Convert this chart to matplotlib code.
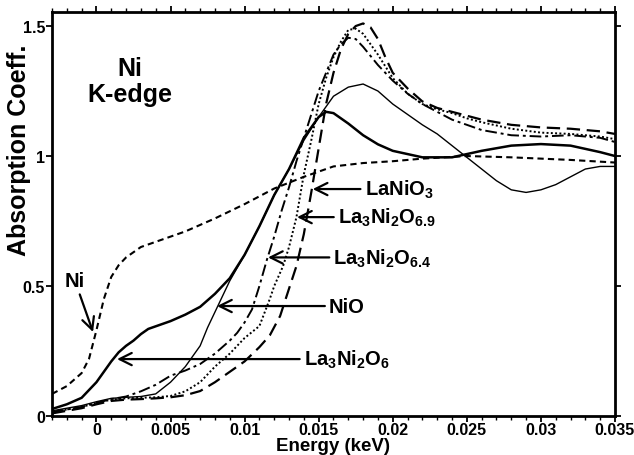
import matplotlib
matplotlib.use('Agg')
import matplotlib.pyplot as plt
from matplotlib import ticker

plt.rcParams['font.family'] = ['Liberation Sans', 'DejaVu Sans']
plt.rcParams['font.weight'] = 'bold'
plt.rcParams['mathtext.fontset'] = 'custom'
plt.rcParams['mathtext.rm'] = 'Liberation Sans:bold'
plt.rcParams['mathtext.bf'] = 'Liberation Sans:bold'
plt.rcParams['mathtext.default'] = 'rm'

# Ni metal foil
e_ni = [-0.003, -0.002, -0.001, -0.0005, 0, 0.0005, 0.001, 0.0015, 0.002, 0.003, 0.004,
        0.005, 0.006, 0.008, 0.010, 0.012, 0.014, 0.016, 0.018, 0.020, 0.022, 0.025,
        0.028, 0.030, 0.032, 0.035]
a_ni = [0.085, 0.115, 0.165, 0.22, 0.33, 0.45, 0.535, 0.58, 0.61, 0.65, 0.67,
        0.69, 0.71, 0.76, 0.815, 0.875, 0.92, 0.96, 0.973, 0.98, 0.99, 1.0,
        0.995, 0.99, 0.985, 0.975]

# La3Ni2O6 (thick solid)
e_l6 = [-0.003, -0.002, -0.001, 0, 0.0005, 0.001, 0.0015, 0.002, 0.0025, 0.003, 0.0035,
        0.004, 0.005, 0.006, 0.007, 0.008, 0.009, 0.010, 0.011, 0.012, 0.013, 0.014,
        0.015, 0.0155, 0.016, 0.017, 0.018, 0.019, 0.020, 0.022, 0.024, 0.026, 0.028,
        0.030, 0.032, 0.034, 0.035]
a_l6 = [0.027, 0.045, 0.07, 0.13, 0.17, 0.21, 0.245, 0.27, 0.29, 0.315, 0.335,
        0.345, 0.365, 0.39, 0.42, 0.47, 0.53, 0.62, 0.73, 0.85, 0.95, 1.07,
        1.15, 1.17, 1.165, 1.125, 1.08, 1.045, 1.02, 0.995, 0.995, 1.02, 1.04,
        1.046, 1.04, 1.015, 1.0]

# NiO (thin solid)
e_nio = [-0.003, -0.002, -0.001, 0, 0.001, 0.002, 0.003, 0.004, 0.005, 0.006, 0.0065,
         0.007, 0.0075, 0.008, 0.0085, 0.009, 0.010, 0.011, 0.012, 0.013, 0.014, 0.015,
         0.016, 0.017, 0.018, 0.019, 0.020, 0.021, 0.022, 0.023, 0.024, 0.025, 0.026,
         0.027, 0.028, 0.029, 0.030, 0.031, 0.032, 0.033, 0.034, 0.035]
a_nio = [0.02, 0.03, 0.04, 0.055, 0.068, 0.072, 0.075, 0.085, 0.13, 0.19, 0.23,
         0.27, 0.34, 0.40, 0.46, 0.52, 0.62, 0.73, 0.85, 0.95, 1.06, 1.15,
         1.23, 1.265, 1.277, 1.25, 1.20, 1.16, 1.12, 1.085, 1.04, 0.995, 0.95,
         0.905, 0.87, 0.86, 0.87, 0.89, 0.92, 0.95, 0.96, 0.96]

# La3Ni2O6.4 (dash-dot)
e_l64 = [-0.003, -0.002, -0.001, 0, 0.001, 0.002, 0.003, 0.004, 0.005, 0.006, 0.007,
         0.008, 0.009, 0.0095, 0.010, 0.0105, 0.011, 0.0115, 0.012, 0.0125, 0.013, 0.0135,
         0.014, 0.0145, 0.015, 0.0155, 0.016, 0.0165, 0.017, 0.0175, 0.018, 0.019,
         0.020, 0.021, 0.022, 0.023, 0.024, 0.025, 0.026, 0.028, 0.030, 0.032, 0.034, 0.035]
a_l64 = [0.015, 0.025, 0.035, 0.05, 0.065, 0.075, 0.095, 0.12, 0.155, 0.175, 0.2,
         0.24, 0.29, 0.32, 0.36, 0.41, 0.5, 0.6, 0.69, 0.79, 0.88, 0.98,
         1.07, 1.16, 1.25, 1.32, 1.39, 1.43, 1.455, 1.45, 1.42, 1.35,
         1.29, 1.24, 1.2, 1.17, 1.14, 1.12, 1.1, 1.08, 1.075, 1.08, 1.07, 1.054]

# La3Ni2O6.9 (dotted)
e_l69 = [-0.003, -0.002, -0.001, 0, 0.001, 0.002, 0.003, 0.004, 0.005, 0.006, 0.007,
         0.008, 0.009, 0.010, 0.011, 0.0117, 0.012, 0.0126, 0.013, 0.0135, 0.014, 0.0145,
         0.015, 0.0155, 0.016, 0.0165, 0.017, 0.0175, 0.018, 0.0185, 0.019, 0.020,
         0.021, 0.022, 0.023, 0.024, 0.025, 0.026, 0.028, 0.030, 0.032, 0.034, 0.035]
a_l69 = [0.015, 0.025, 0.035, 0.05, 0.063, 0.068, 0.07, 0.072, 0.077, 0.095, 0.13,
         0.19, 0.24, 0.30, 0.346, 0.45, 0.50, 0.577, 0.65, 0.765, 0.93, 1.06,
         1.2, 1.3, 1.38, 1.44, 1.485, 1.49, 1.47, 1.43, 1.39, 1.30,
         1.24, 1.20, 1.18, 1.165, 1.145, 1.13, 1.105, 1.09, 1.085, 1.075, 1.065]

# LaNiO3 (long dash)
e_lno = [-0.003, -0.002, -0.001, 0, 0.001, 0.002, 0.003, 0.004, 0.005, 0.006, 0.007,
         0.008, 0.009, 0.010, 0.011, 0.0117, 0.0124, 0.013, 0.0135, 0.014, 0.0145, 0.015,
         0.0155, 0.016, 0.0165, 0.017, 0.0175, 0.018, 0.0185, 0.019, 0.0195, 0.020,
         0.021, 0.022, 0.023, 0.024, 0.025, 0.026, 0.028, 0.030, 0.032, 0.034, 0.035]
a_lno = [0.01, 0.02, 0.03, 0.045, 0.058, 0.063, 0.065, 0.068, 0.072, 0.08, 0.096,
         0.13, 0.17, 0.21, 0.265, 0.31, 0.385, 0.49, 0.577, 0.70, 0.86, 1.03,
         1.2, 1.32, 1.41, 1.47, 1.5, 1.51, 1.495, 1.45, 1.38, 1.32,
         1.26, 1.21, 1.185, 1.17, 1.155, 1.14, 1.12, 1.11, 1.105, 1.095, 1.085]

fig = plt.figure(figsize=(6.34, 4.56), dpi=100)
ax = fig.add_axes([0.082, 0.0855, 0.888, 0.886])

ax.plot(e_ni, a_ni, color='black', lw=1.5, dashes=(3, 2))
ax.plot(e_l6, a_l6, color='black', lw=1.8)
ax.plot(e_nio, a_nio, color='black', lw=1.0)
ax.plot(e_l64, a_l64, color='black', lw=1.4, dashes=(6, 2, 1.5, 2))
ax.plot(e_l69, a_l69, color='black', lw=1.4, dashes=(1, 1.2))
ax.plot(e_lno, a_lno, color='black', lw=1.6, dashes=(6, 3))

ax.set_xlim(-0.003, 0.035)
ax.set_ylim(0, 1.554)

ax.xaxis.set_major_locator(ticker.MultipleLocator(0.005))
ax.xaxis.set_minor_locator(ticker.MultipleLocator(0.001))
ax.xaxis.set_major_formatter(ticker.FuncFormatter(lambda v, p: ('%.3f' % v).rstrip('0').rstrip('.') if abs(v) > 1e-9 else '0'))
ax.yaxis.set_major_locator(ticker.FixedLocator([0, 0.5, 1.0, 1.5]))
ax.yaxis.set_major_formatter(ticker.FixedFormatter(['0', '0.5', '1', '1.5']))
ax.tick_params(axis='both', which='major', direction='out', length=4, width=1.3,
               labelsize=11.5, top=True, right=True, pad=1)
ax.tick_params(axis='x', which='major', pad=0)
ax.tick_params(axis='x', which='minor', direction='out', length=3, width=1, top=True)
for s in ax.spines.values():
    s.set_linewidth(2)

ax.set_xlabel('Energy (keV)', fontsize=13.5, fontweight='bold')
ax.xaxis.set_label_coords(0.5, -0.073)
ax.xaxis.label.set_va('center')
ax.set_ylabel('Absorption Coeff.', fontsize=18, fontweight='bold')
ax.yaxis.set_label_coords(-0.058, 0.66)
ax.yaxis.label.set_va('center')

ax.text(0.00227, 1.29, 'Ni\nK-edge', fontsize=18, fontweight='bold',
        ha='center', va='center', linespacing=1.1)

arr = dict(arrowstyle='->', lw=1.6, color='black', mutation_scale=22,
           shrinkA=1, shrinkB=0)
ax.annotate('LaNiO$_3$', xy=(0.0146, 0.873), xytext=(0.0181, 0.873),
            fontsize=14.5, ha='left', va='center', arrowprops=arr)
ax.annotate('La$_3$Ni$_2$O$_{6.9}$', xy=(0.01354, 0.765), xytext=(0.0163, 0.765),
            fontsize=14.5, ha='left', va='center', arrowprops=arr)
ax.annotate('La$_3$Ni$_2$O$_{6.4}$', xy=(0.01158, 0.61), xytext=(0.0160, 0.61),
            fontsize=14.5, ha='left', va='center', arrowprops=arr)
ax.annotate('NiO', xy=(0.00814, 0.423), xytext=(0.0157, 0.423),
            fontsize=14.5, ha='left', va='center', arrowprops=arr)
ax.annotate('La$_3$Ni$_2$O$_6$', xy=(0.00139, 0.219), xytext=(0.0140, 0.219),
            fontsize=14.5, ha='left', va='center', arrowprops=arr)
ax.annotate('Ni', xy=(-0.00023, 0.323), xytext=(-0.00145, 0.52),
            fontsize=14.5, ha='center', va='center', arrowprops=arr)

fig.savefig('out.png', dpi=100)
